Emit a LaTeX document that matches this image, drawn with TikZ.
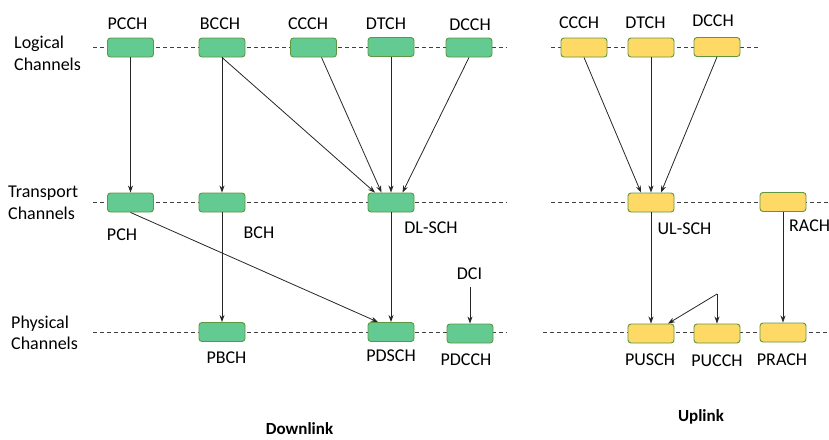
\documentclass[tikz,border=0pt]{standalone}
\usepackage{fontspec}
\setmainfont{Carlito}
\usetikzlibrary{arrows.meta}
\definecolor{dlfill}{HTML}{63CA91}
\definecolor{ulfill}{HTML}{FFD966}
\definecolor{boxline}{HTML}{5F9640}
\definecolor{rowline}{HTML}{404040}
\begin{document}
\begin{tikzpicture}[x=1pt,y=-1pt,
  chbox/.style={rectangle,rounded corners=3pt,draw=boxline,line width=0.9pt,
    minimum width=46pt,minimum height=19pt,inner sep=0pt},
  dlbox/.style={chbox,fill=dlfill},
  ulbox/.style={chbox,fill=ulfill},
  lbl/.style={font=\fontsize{18}{22}\selectfont,inner sep=0pt,anchor=base},
  rowlbl/.style={font=\fontsize{18}{22}\selectfont,inner sep=0pt,anchor=base west},
  title/.style={font=\fontsize{17}{20}\selectfont\bfseries,inner sep=0pt,anchor=base},
  rowdash/.style={draw=rowline,line width=0.8pt,dash pattern=on 4pt off 3pt},
  link/.style={draw=black!85,line width=0.8pt,-{Stealth[length=7pt,width=5pt]}},
  plain/.style={draw=black!85,line width=0.8pt}]
\useasboundingbox (0,0) rectangle (829,439);

% layer guide lines
\draw[rowdash] (93,47) -- (507,47);
\draw[rowdash] (551,47) -- (760,47);
\draw[rowdash] (93,202.5) -- (507,202.5);
\draw[rowdash] (551,202.5) -- (829,202.5);
\draw[rowdash] (93,332) -- (507,332);
\draw[rowdash] (543,332) -- (829,332);

% row titles
\node[rowlbl] (lg1) at (14,48) {Logical};
\node[rowlbl] (lg2) at (14,70) {Channels};
\node[rowlbl] (tr1) at (8,197) {Transport};
\node[rowlbl] (tr2) at (8,219) {Channels};
\node[rowlbl] (ph1) at (11,328) {Physical};
\node[rowlbl] (ph2) at (11,349.5) {Channels};

% downlink logical channels
\node[dlbox] (pcch) at (130.5,47.5) {};
\node[dlbox] (bcch) at (222,47.5) {};
\node[dlbox] (ccch) at (313.5,47.5) {};
\node[dlbox] (dtch) at (391,47) {};
\node[dlbox] (dcch) at (469,47.5) {};
\node[lbl] (pcchL) at (127.5,29) {PCCH};
\node[lbl] (bcchL) at (220,29) {BCCH};
\node[lbl] (ccchL) at (308,29) {CCCH};
\node[lbl] (dtchL) at (386,29) {DTCH};
\node[lbl] (dcchL) at (470,30.5) {DCCH};

% uplink logical channels
\node[ulbox] (uccch) at (584,47.5) {};
\node[ulbox] (udtch) at (651,47.5) {};
\node[ulbox] (udcch) at (717,47) {};
\node[lbl] (uccchL) at (579,28) {CCCH};
\node[lbl] (udtchL) at (645.5,28) {DTCH};
\node[lbl] (udcchL) at (713,27) {DCCH};

% downlink transport channels
\node[dlbox] (pch) at (130.5,202.5) {};
\node[dlbox] (bch) at (222,202.5) {};
\node[dlbox] (dlsch) at (391,202.5) {};
\node[lbl] (pchL) at (122,240) {PCH};
\node[lbl] (bchL) at (259,238) {BCH};
\node[lbl] (dlschL) at (431,233) {DL-SCH};

% uplink transport channels
\node[ulbox] (ulsch) at (651,202.5) {};
\node[ulbox] (rach) at (783,202) {};
\node[lbl] (ulschL) at (684.5,234) {UL-SCH};
\node[rowlbl] (rachL) at (789,231) {RACH};

% downlink physical channels
\node[dlbox] (pbch) at (222,332) {};
\node[dlbox] (pdsch) at (391,332) {};
\node[dlbox] (pdcch) at (470,333.5) {};
\node[lbl] (pbchL) at (226.5,363) {PBCH};
\node[lbl] (pdschL) at (391,361) {PDSCH};
\node[lbl] (pdcchL) at (466,365) {PDCCH};
\node[lbl] (dci) at (469.5,279) {DCI};
\coordinate (dciEnd) at (470,287);

% uplink physical channels
\node[ulbox] (pusch) at (651,333.5) {};
\node[ulbox] (pucch) at (717,333.5) {};
\node[ulbox] (prach) at (783,332.5) {};
\node[lbl] (puschL) at (650,365) {PUSCH};
\node[lbl] (pucchL) at (717,366) {PUCCH};
\node[lbl] (prachL) at (782,365) {PRACH};
\coordinate (uci) at (717,294);

% section titles
\node[title] (dl) at (299.5,434.5) {Downlink};
\node[title] (ul) at (701,421.5) {Uplink};

% downlink mapping
\draw[link] (pcch.south) -- (pch.north);
\draw[link] (bcch.south) -- (bch.north);
\draw[link] (bcch.south) -- ([xshift=-16pt]dlsch.north);
\draw[link] ([xshift=8pt]ccch.south) -- ([xshift=-9.5pt]dlsch.north);
\draw[link] (dtch.south) -- (dlsch.north);
\draw[link] (dcch.south) -- ([xshift=11.5pt]dlsch.north);
\draw[link] (pch.south) -- ([xshift=-13pt]pdsch.north);
\draw[link] (bch.south) -- (pbch.north);
\draw[link] (dlsch.south) -- (pdsch.north);
\draw[link] (dciEnd) -- (pdcch.north);

% uplink mapping
\draw[link] (uccch.south) -- ([xshift=-10pt]ulsch.north);
\draw[link] (udtch.south) -- (ulsch.north);
\draw[link] (udcch.south) -- ([xshift=10pt]ulsch.north);
\draw[link] (ulsch.south) -- (pusch.north);
\draw[link] (uci) -- (pucch.north);
\draw[link] (uci) -- ([xshift=17pt]pusch.north);
\draw[link] (rach.south) -- (prach.north);
\end{tikzpicture}
\end{document}
